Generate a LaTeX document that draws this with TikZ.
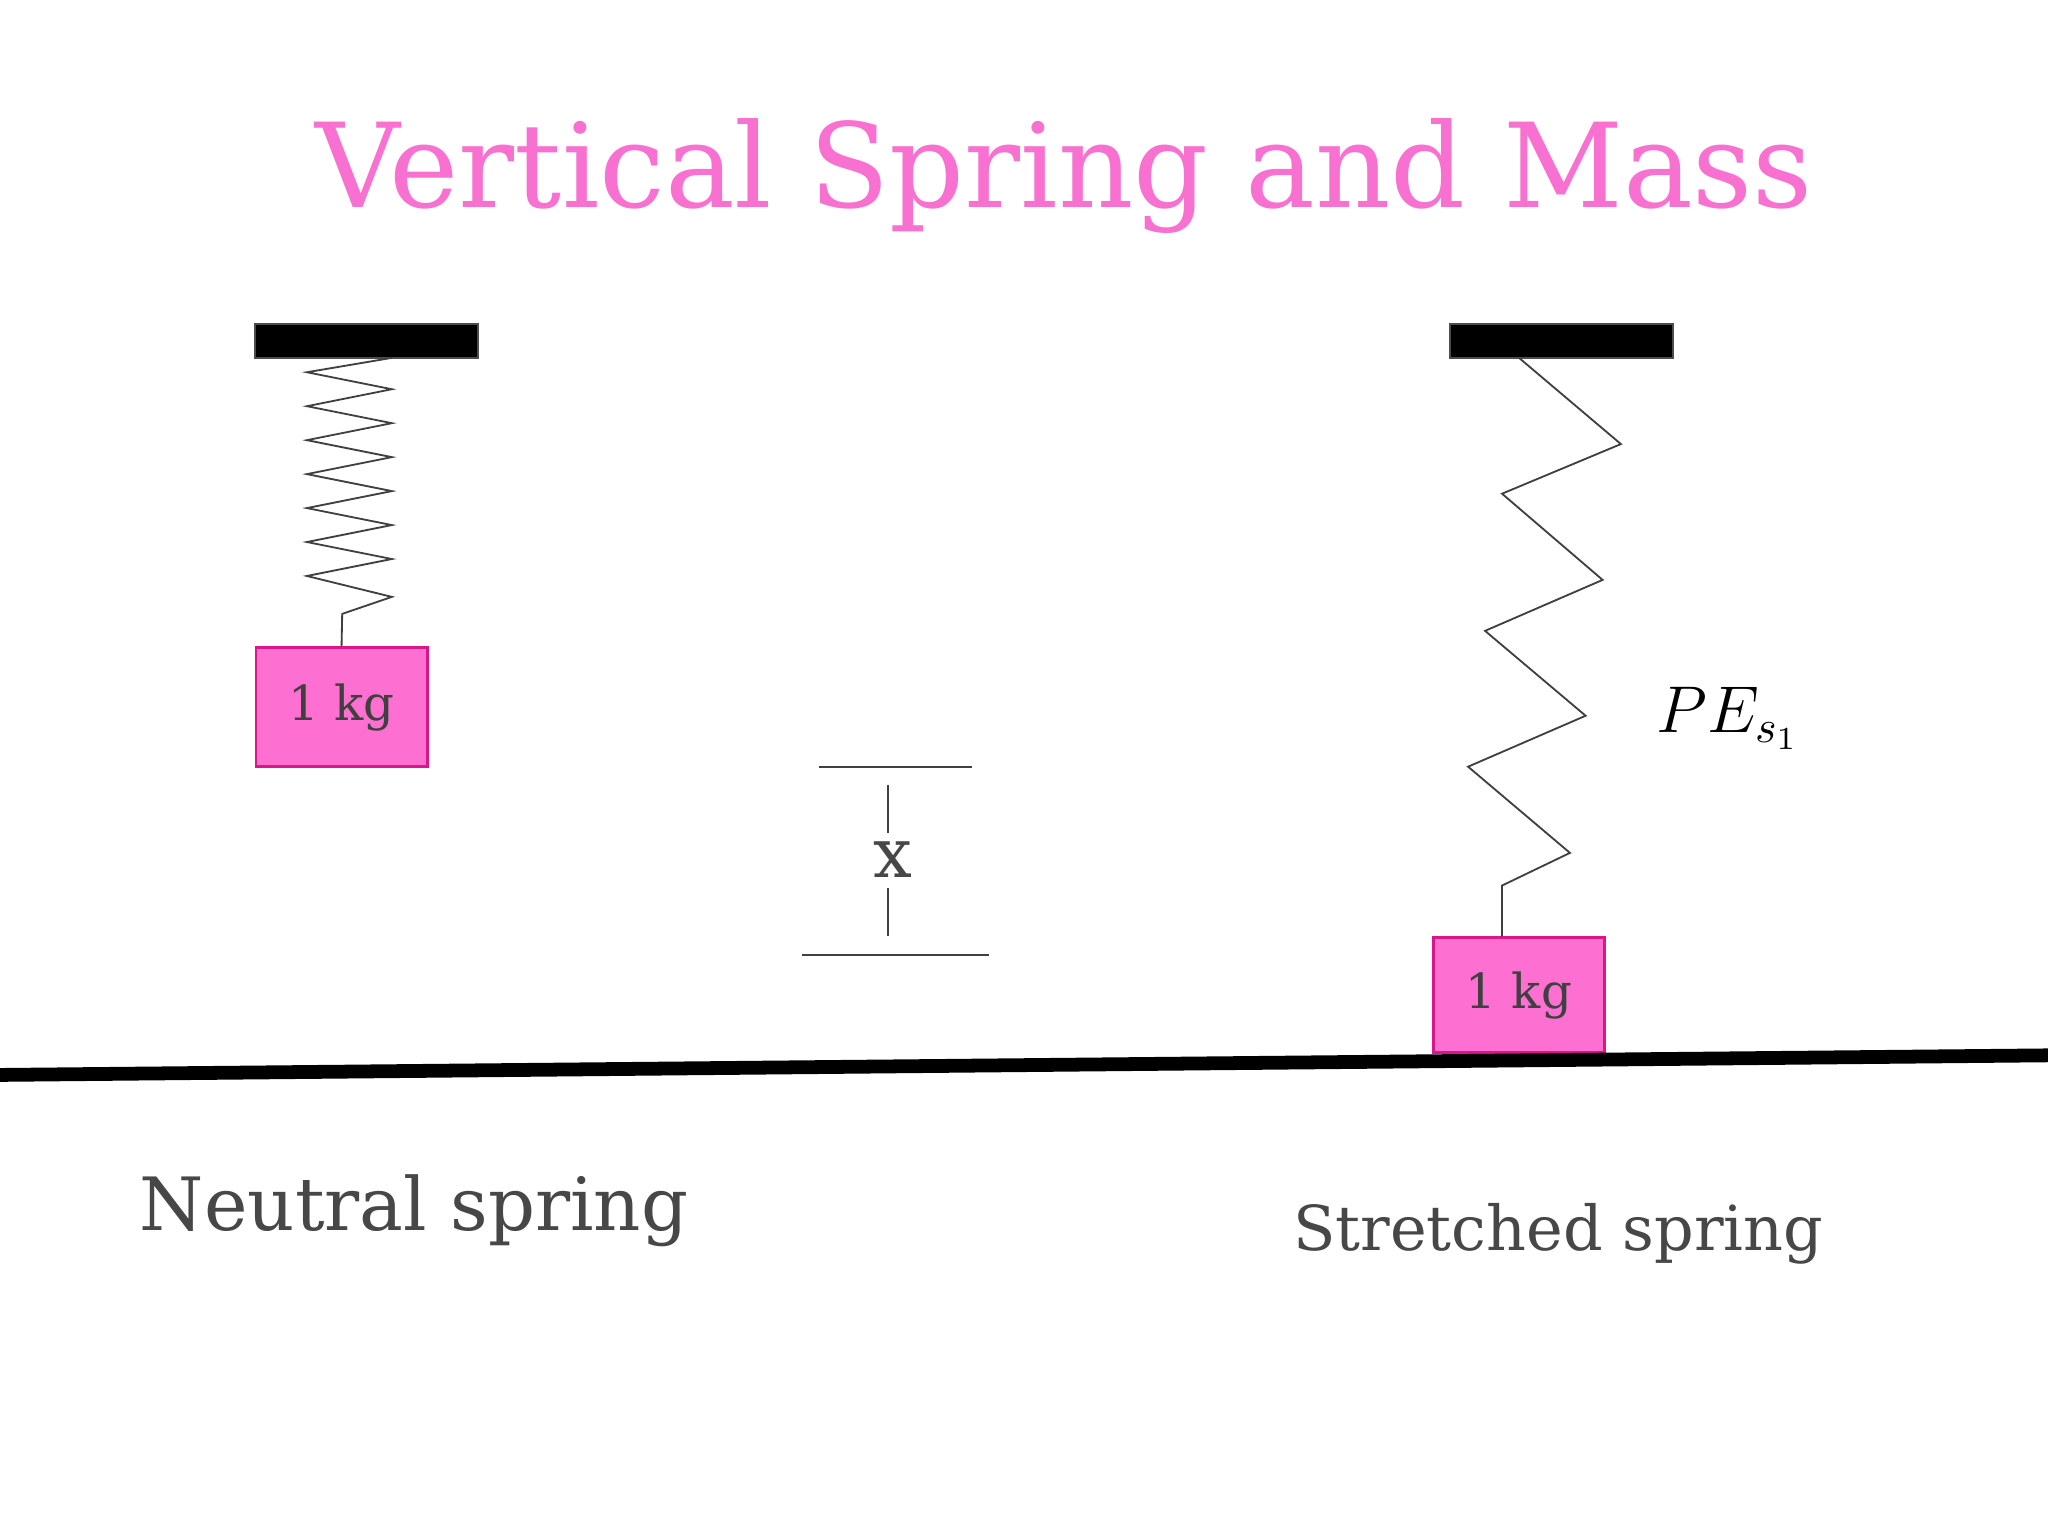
\documentclass[tikz,border=0pt]{standalone}
\usepackage{fontspec}
\setmainfont{DejaVu Serif}
\begin{document}
\begin{tikzpicture}[x=0.01cm,y=-0.01cm,
  plate/.style={fill=black,draw=black!70},
  mass/.style={fill=pink1,draw=magenta!80!violet,line width=0.6pt,minimum width=1.31cm,inner sep=0pt,font=\fontsize{10.5}{12}\selectfont,text=black!75},
  spr/.style={draw=black!75,line width=0.4pt},
  lbl/.style={text=black!72}]
\definecolor{pink1}{HTML}{FD70D1}
\definecolor{title}{HTML}{F870D0}
\useasboundingbox (0,0) rectangle (1568,1176);
\node[text=title,font=\fontsize{25.5}{30}\selectfont] (t) at (815,135) {Vertical Spring and Mass};
% left
\fill[plate] (195,248) rectangle (366,274);
\node[mass,minimum height=0.91cm] (m1) at (261.5,541.5) {1 kg};
\draw[spr] (300,274) -- (235,285) -- (300,298) -- (235,311) -- (300,324) -- (235,337) -- (300,350) -- (235,363) -- (300,376) -- (235,389) -- (300,402) -- (235,415) -- (300,428) -- (235,441) -- (300,457) -- (262,470) -- (m1.north);
% right
\fill[plate] (1110,248) rectangle (1281,274);
\node[mass,minimum height=0.88cm] (m2) at (1163,762) {1 kg};
\draw[spr] (1163,274) -- (1241,340) -- (1150,378) -- (1227,444) -- (1137,483) -- (1214,548) -- (1124,587) -- (1202,653) -- (1150,678) -- (m2.north -| 1150,0);
% ground
\draw[line width=3pt] (0,823) -- (1568,808);
% x marker
\draw[spr] (627,587) -- (744,587);
\draw[spr] (614,731) -- (757,731);
\node[font=\fontsize{15}{18}\selectfont,text=black!72] (x) at (684,658) {x};
\coordinate (xa) at (680,601);
\coordinate (xb) at (680,638);
\coordinate (xc) at (680,680);
\coordinate (xd) at (680,717);
\draw[spr] (xa) -- (xb);
\draw[spr] (xc) -- (xd);
\node[font=\fontsize{14}{17}\selectfont] (pe) at (1323,550) {$PE_{s_1}$};
\node[lbl,font=\fontsize{16}{19}\selectfont] (n) at (317,927) {Neutral spring};
\node[lbl,font=\fontsize{13.5}{16}\selectfont] (s) at (1193,945) {Stretched spring};
\end{tikzpicture}
\end{document}
